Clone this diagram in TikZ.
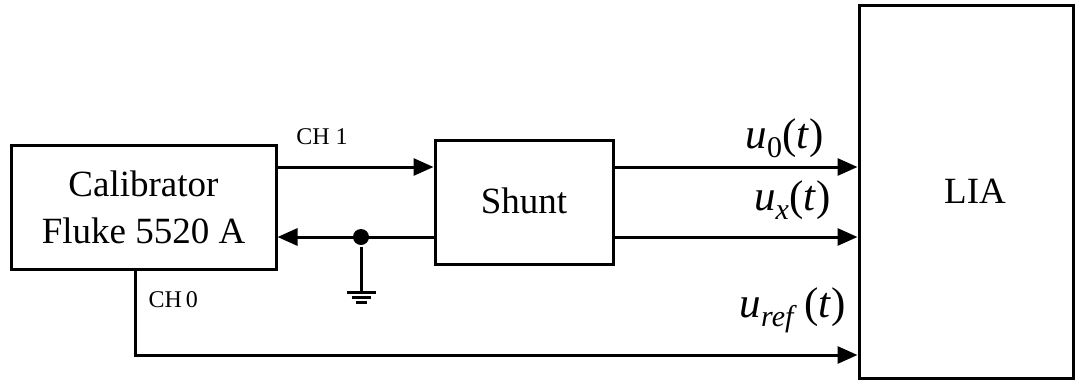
\documentclass[tikz,border=0pt]{standalone}
\usepackage{fontspec}
\setmainfont{Liberation Serif}
\usetikzlibrary{arrows.meta}
\newcommand{\sublow}[1]{\raisebox{-9pt}{\fontsize{30}{30}\selectfont #1}}
\begin{document}
\begin{tikzpicture}[x=1pt,y=-1pt,line width=3pt,
  blk/.style={draw,line width=3pt,inner sep=0pt,align=center},
  arr/.style={-{Triangle[length=20pt,width=17pt]}},
  big/.style={font=\fontsize{37}{47}\selectfont},
  small/.style={font=\fontsize{24}{28}\selectfont},
  sig/.style={font=\fontsize{43}{46}\selectfont,anchor=base east,inner sep=0pt}]
\useasboundingbox (0,0) rectangle (1082,381);
\node[blk,big,minimum width=265pt,minimum height=124pt] (cal) at (143.5,207) {Calibrator\\Fluke 5520 A};
\node[blk,minimum width=178pt,minimum height=124pt] (shunt) at (524,202) {};
\node[big,anchor=base,inner sep=0pt] (shtxt) at (524,213) {Shunt};
\node[blk,minimum width=214pt,minimum height=373pt] (lia) at (966,191.5) {};
\node[big,anchor=base,inner sep=0pt] (liatxt) at (975,203) {LIA};
\coordinate (y1) at (0,167);
\coordinate (y2) at (0,237);
\coordinate (y4) at (0,355);
\coordinate (c0) at (135,0);
\node[circle,fill,inner sep=0pt,minimum size=16pt] (j) at (361,237) {};
\coordinate (g) at (361,292);
% CH1
\draw[arr] (cal.east |- y1) -- (shunt.west |- y1);
\node[small] (ch1) at (322,137) {CH 1};
% return
\draw[arr] (shunt.west |- y2) -- (cal.east |- y2);
\draw (j) -- (g);
\draw (g) ++(-14.5,0) -- ++(29,0);
\draw (g) ++(-9.5,5) -- ++(19,0);
\draw (g) ++(-5.5,10) -- ++(11,0);
% outputs
\draw[arr] (shunt.east |- y1) -- (lia.west |- y1);
\draw[arr] (shunt.east |- y2) -- (lia.west |- y2);
\draw[arr] (cal.south -| c0) |- (lia.west |- y4);
\node[small,anchor=west,inner sep=0pt] (ch0) at (147,300) {CH\,0};
% labels
\node[sig] (lu0) at (825,148) {\textit{u}\sublow{0}(\textit{t})};
\node[sig] (lux) at (832,210) {\textit{u}\sublow{\textit{x}}(\textit{t})};
\node[sig] (luref) at (847,317) {\textit{u}\sublow{\textit{ref}}\,(\textit{t})};
\end{tikzpicture}
\end{document}
